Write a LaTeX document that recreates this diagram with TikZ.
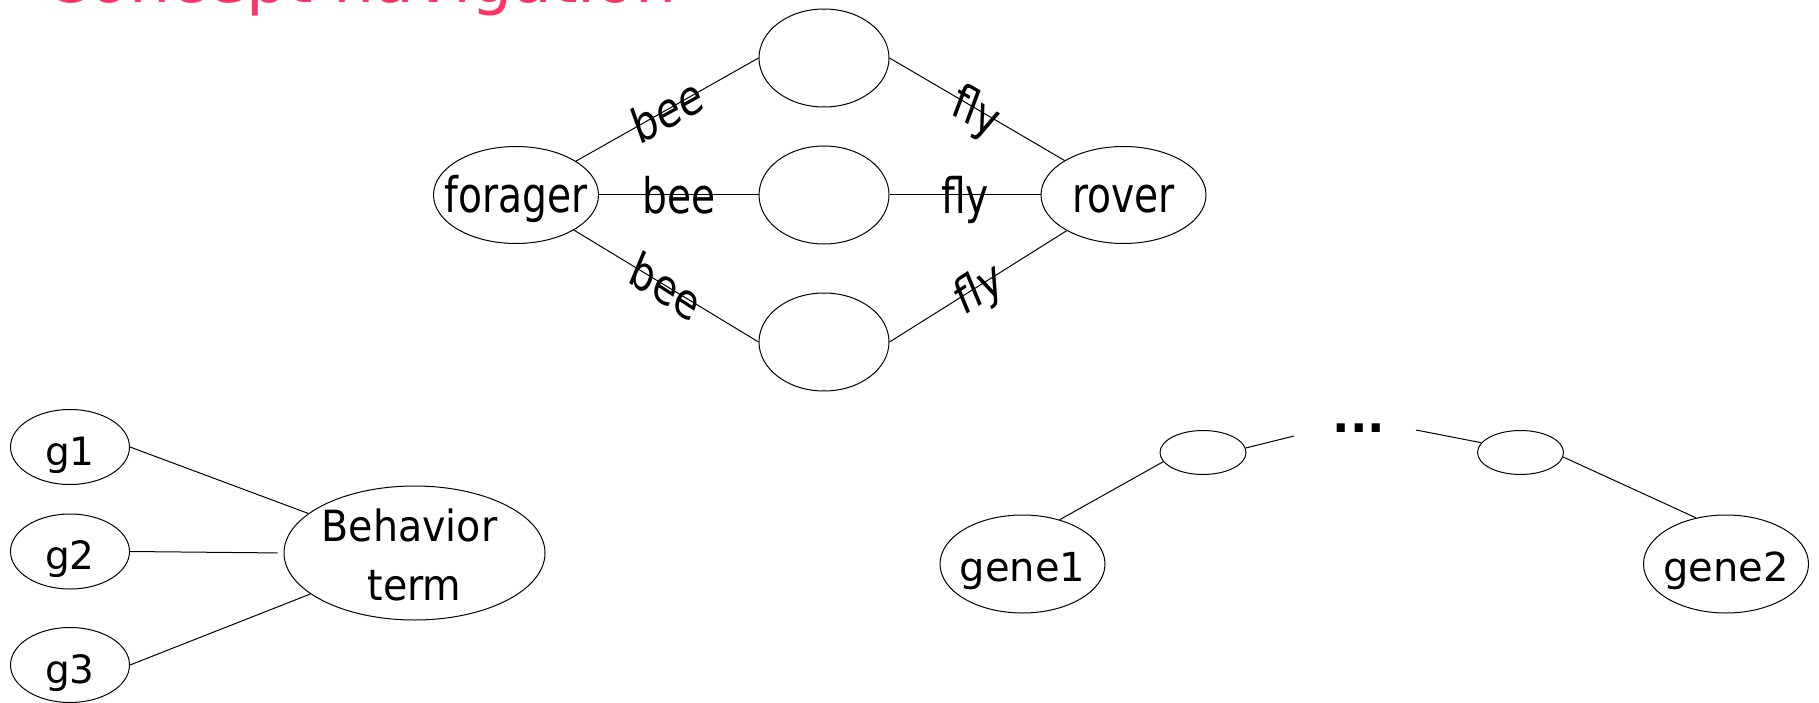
\documentclass[tikz,border=0pt]{standalone}
\usepackage{fontspec}
\setmainfont{DejaVu Sans}
\newfontfamily\fcondA[FakeStretch=0.8]{DejaVu Sans}
\newfontfamily\fcondB[FakeStretch=0.92]{DejaVu Sans}
\newfontfamily\fplain{DejaVu Sans}
\usetikzlibrary{shapes.geometric}
\definecolor{titlepink}{RGB}{255,51,102}
\tikzset{
  ell/.style={ellipse, draw, line width=1pt, inner sep=0pt},
  midell/.style={ell, minimum width=130pt, minimum height=98pt},
  endell/.style={ell, minimum width=165pt, minimum height=97pt},
  gell/.style={ell, minimum width=119pt, minimum height=75pt},
  geneell/.style={ell, minimum width=165pt, minimum height=98pt},
  smallell/.style={ell, minimum width=86pt, minimum height=44pt},
  edge/.style={line width=1pt},
  toptxt/.style={font=\fcondA\fontsize{49pt}{58pt}\selectfont, inner sep=0pt, text height=36pt, text depth=0pt},
  elbl/.style={font=\fplain\fontsize{49pt}{58pt}\selectfont, inner sep=0pt, text height=37pt, text depth=0pt, xscale=0.8},
  gtxt/.style={font=\fplain\fontsize{39pt}{47pt}\selectfont, inner sep=0pt, text height=36.6pt, text depth=0pt},
  bttxt/.style={font=\fcondB\fontsize{43pt}{52pt}\selectfont, inner sep=0pt, text height=0pt, text depth=0pt},
  genetxt/.style={font=\fplain\fontsize{40pt}{48pt}\selectfont, inner sep=0pt, text height=35.4pt, text depth=0pt},
  dotstxt/.style={font=\fplain\bfseries\fontsize{46pt}{55pt}\selectfont, inner sep=0pt, text height=0pt, text depth=0pt},
  titletxt/.style={font=\fplain\fontsize{65pt}{78pt}\selectfont, text=titlepink, inner sep=0pt}
}
\begin{document}
\begin{tikzpicture}[x=1pt,y=-1pt]
\useasboundingbox (0,0) rectangle (1819,703);
\clip (0,0) rectangle (1819,703);

% title (cut off at the top edge)
\node[titletxt, anchor=base west] (title) at (44,3) {Concept navigation};

% top group
\node[endell, label={[toptxt]center:forager}] (forager) at (516,195) {};
\node[midell] (t1) at (824,58) {};
\node[midell] (t2) at (824,195) {};
\node[midell] (t3) at (824,342) {};
\node[endell, label={[toptxt]center:rover}] (rover) at (1123.5,195) {};

\draw[edge] (forager) -- (t1.west) node[elbl, midway, rotate=24.1] {bee};
\draw[edge] (forager.east) -- (t2.west) node[elbl, midway] {bee};
\draw[edge] (forager) -- (t3.west) node[elbl, midway, rotate=-27.5] {bee};
\draw[edge] (t1.east) -- (rover) node[elbl, midway, rotate=-25] {fly};
\draw[edge] (t2.east) -- (rover.west) node[elbl, midway] {fly};
\draw[edge] (t3.east) -- (rover) node[elbl, midway, rotate=27.4] {fly};

% bottom-left group
\node[gell, label={[gtxt]center:g1}] (g1) at (70,447) {};
\node[gell, label={[gtxt]center:g2}] (g2) at (70,551.5) {};
\node[gell, label={[gtxt]center:g3}] (g3) at (70,665) {};
\node[ell, minimum width=261pt, minimum height=134pt,
      label={[bttxt, yshift=11.3pt, xshift=-5pt]center:Behavior},
      label={[bttxt, yshift=-47pt]center:term}] (bt) at (414.5,553) {};
\draw[edge] (g1.east) -- (bt);
\draw[edge, shorten >=6pt] (g2.east) -- (bt.west);
\draw[edge] (g3.east) -- (bt);

% bottom-right group
\node[smallell] (s1) at (1203,452.5) {};
\node[smallell] (s2) at (1520.5,452.5) {};
\node[geneell, label={[genetxt]center:gene1}] (gene1) at (1022.5,564) {};
\node[geneell, label={[genetxt]center:gene2}] (gene2) at (1726,564) {};
\node[dotstxt] (dots) at (1359,432) {...};
\coordinate (c1) at (1294,436);
\coordinate (c2) at (1416,430);
\draw[edge] (gene1.50) -- (s1.193);
\draw[edge] (s1.6) -- (c1);
\draw[edge] (c2) -- (s2.166);
\draw[edge] (s2.-6) -- (gene2.123);
\end{tikzpicture}
\end{document}
